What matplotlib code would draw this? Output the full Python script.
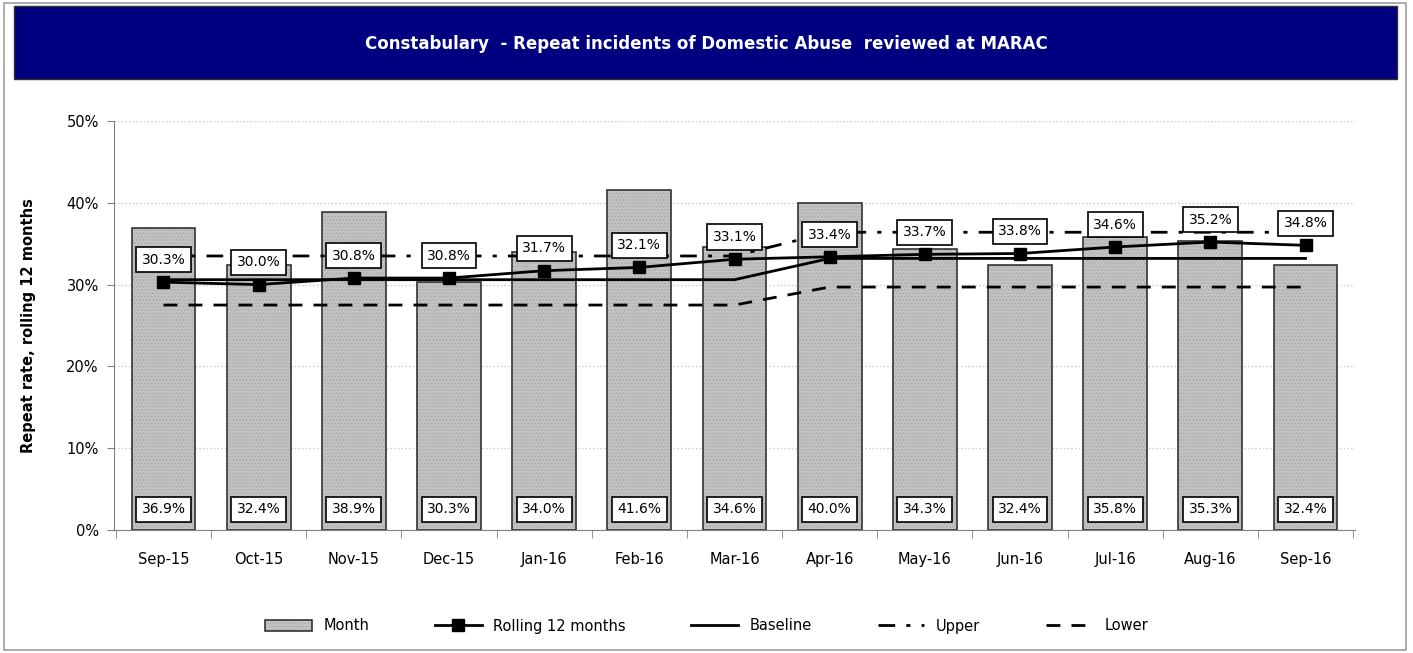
import numpy as np
import matplotlib.pyplot as plt
from matplotlib.patches import Rectangle
from matplotlib.ticker import FuncFormatter, MultipleLocator, FixedLocator

# Datos
months = ["Sep-15", "Oct-15", "Nov-15", "Dec-15", "Jan-16", "Feb-16", "Mar-16",
          "Apr-16", "May-16", "Jun-16", "Jul-16", "Aug-16", "Sep-16"]
month_rate = [36.9, 32.4, 38.9, 30.3, 34.0, 41.6, 34.6, 40.0, 34.3, 32.4, 35.8, 35.3, 32.4]
rolling_12 = [30.3, 30.0, 30.8, 30.8, 31.7, 32.1, 33.1, 33.4, 33.7, 33.8, 34.6, 35.2, 34.8]
baseline = [30.6] * 7 + [33.2] * 6
upper = [33.5] * 7 + [36.4] * 6
lower = [27.5] * 7 + [29.7] * 6

plt.rcParams['font.family'] = ['DejaVu Sans']

fig = plt.figure(figsize=(14.13, 6.53), dpi=100)
fig.patch.set_facecolor('white')

# marco exterior
fig.patches.append(Rectangle((0.003, 0.004), 0.992, 0.992, transform=fig.transFigure,
                             fill=False, edgecolor='#a0a0a0', linewidth=1.2))
# banda del titulo
fig.patches.append(Rectangle((14 / 1413, 1 - 79 / 653), (1397 - 14) / 1413, 73 / 653,
                             transform=fig.transFigure, facecolor='#000080',
                             edgecolor='#303030', linewidth=1))
fig.text(0.5, 1 - 44 / 653, "Constabulary  - Repeat incidents of Domestic Abuse  reviewed at MARAC",
         color='white', fontsize=12, fontweight='bold', ha='center', va='center')

ax = fig.add_axes([114 / 1413, (653 - 530) / 653, (1355 - 114) / 1413, 409 / 653])
x = np.arange(len(months))

ax.bar(x, month_rate, width=0.67, facecolor='#c4c4c4', edgecolor='#333333',
       linewidth=1.2, hatch='.....', label='Month', zorder=2)
for patch in ax.patches:
    patch._hatch_color = (0.68, 0.68, 0.68, 1.0)

ax.plot(x, baseline, color='black', linewidth=2, label='Baseline', zorder=3)
ax.plot(x, upper, color='black', linewidth=2, dashes=(6, 4, 1.5, 4), label='Upper', zorder=3)
ax.plot(x, lower, color='black', linewidth=2, dashes=(5, 4), label='Lower', zorder=3)
ax.plot(x, rolling_12, color='black', linewidth=2, marker='s', markersize=9,
        label='Rolling 12 months', zorder=4)

box = dict(boxstyle='square,pad=0.4', fc='white', ec='black', lw=1.2)
for xi, v in zip(x, rolling_12):
    ax.annotate(f"{v:.1f}%", xy=(xi, v), xytext=(0, 11), textcoords='offset points',
                ha='center', va='bottom', fontsize=10, bbox=box, zorder=5)
for xi, v in zip(x, month_rate):
    ax.annotate(f"{v:.1f}%", xy=(xi, 0), xytext=(0, 15), textcoords='offset points',
                ha='center', va='center', fontsize=10, bbox=box, zorder=5)

ax.set_xlim(-0.52, len(months) - 0.48)
ax.set_ylim(0, 50)
ax.yaxis.set_major_locator(MultipleLocator(10))
ax.yaxis.set_major_formatter(FuncFormatter(lambda v, p: f"{v:.0f}%"))
ax.set_xticks(x)
ax.set_xticklabels(months, fontsize=10.5)
ax.xaxis.set_minor_locator(FixedLocator(np.arange(-0.5, len(months), 1.0)))
ax.tick_params(axis='x', which='major', length=0, pad=16)
ax.tick_params(axis='x', which='minor', length=6, color='#808080', direction='out')
ax.tick_params(axis='y', labelsize=10.5, length=5, color='#808080', pad=6)
ax.yaxis.grid(True, color='#c8c8c8', linestyle=':', linewidth=1, zorder=0)
ax.set_axisbelow(True)

for s in ['top', 'right']:
    ax.spines[s].set_visible(False)
for s in ['left', 'bottom']:
    ax.spines[s].set_color('#808080')

ax.set_ylabel("Repeat rate, rolling 12 months", fontsize=10.5, fontweight='bold', labelpad=22)

handles, labels = ax.get_legend_handles_labels()
order = ['Month', 'Rolling 12 months', 'Baseline', 'Upper', 'Lower']
hmap = dict(zip(labels, handles))
fig.legend([hmap[k] for k in order], order, loc='center', bbox_to_anchor=(0.5, 1 - 626 / 653),
           ncol=5, frameon=False, fontsize=10.5, columnspacing=4.5, handlelength=3.2)

plt.savefig("out.png", dpi=100)
